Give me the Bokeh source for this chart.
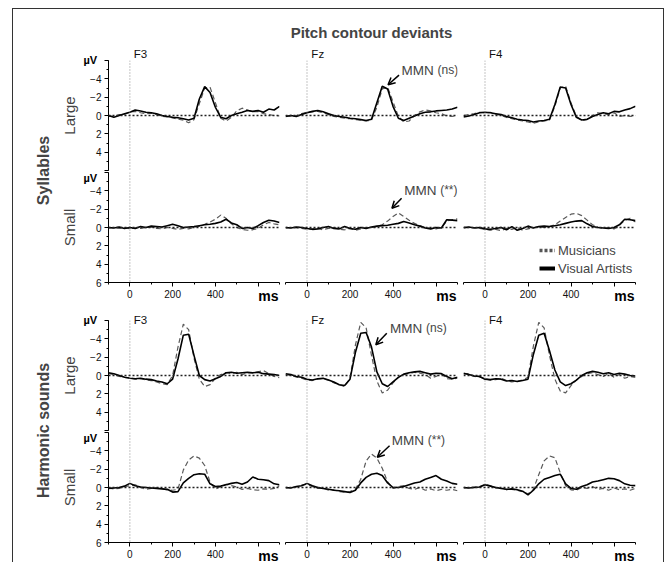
import math
from bokeh.plotting import figure
from bokeh.models import (Range1d, LinearAxis, SingleIntervalTicker, FixedTicker, Label, Arrow,
                          OpenHead, Span, Legend, LegendItem, Spacer, Title)
from bokeh.layouts import row, column
from bokeh.embed import file_html
from bokeh.resources import INLINE

FONT = "Liberation Sans"

# ---------------- data (µV, negative plotted upwards) ----------------
time_ms = [-100, -75, -50, -25, 0, 25, 50, 75, 100, 125, 150, 175, 200, 225, 250, 275,
           300, 325, 350, 375, 400, 425, 450, 475, 500, 525, 550, 575, 600, 625, 650, 675, 700]

electrodes = ["F3", "Fz", "F4"]
row_sizes = ["Large", "Small", "Large", "Small"]
stim_types = ["Syllables", "Harmonic sounds"]
groups = ["Musicians", "Visual Artists"]
chart_title = "Pitch contour deviants"
x_unit = "ms"
y_unit = "µV"

# Syllables - Large deviants
syl_large_f3_mus = [0.1, 0.1, -0.1, -0.1, -0.4, -0.45, -0.3, -0.2, -0.25, -0.1, 0.1, 0.15, 0.25, 0.4, 0.5, 0.8, 0.45,
                    -1.3, -3.0, -3.1, -1.4, 0.3, 0.6, 0.2, -0.5, -0.8, -0.6, -0.4, -0.45, -0.2, -0.1, 0.0, 0.05]
syl_large_f3_va = [0.0, 0.2, 0.0, -0.2, -0.35, -0.6, -0.5, -0.35, -0.3, -0.2, 0.0, 0.1, 0.2, 0.25, 0.35, 0.5, 0.3,
                   -1.8, -3.15, -2.5, -0.9, 0.2, 0.35, 0.0, -0.2, -0.35, -0.55, -0.45, -0.55, -0.35, -0.7, -0.6, -1.0]
syl_large_fz_mus = [0.0, 0.1, 0.0, -0.2, -0.35, -0.4, -0.45, -0.3, -0.1, 0.1, 0.2, 0.3, 0.35, 0.45, 0.5, 0.6, 0.5,
                    -0.9, -2.9, -3.1, -1.5, 0.1, 0.7, 0.6, 0.0, -0.4, -0.6, -0.5, -0.3, -0.2, 0.05, 0.1, 0.0]
syl_large_fz_va = [0.1, 0.0, 0.1, -0.1, -0.3, -0.45, -0.55, -0.4, -0.2, 0.0, 0.1, 0.2, 0.3, 0.35, 0.45, 0.55, 0.4,
                   -1.4, -3.2, -2.9, -1.0, 0.3, 0.55, 0.3, 0.05, -0.2, -0.35, -0.4, -0.5, -0.55, -0.6, -0.7, -0.9]
syl_large_f4_mus = [0.0, -0.1, -0.2, -0.35, -0.3, -0.35, -0.15, 0.0, 0.2, 0.35, 0.5, 0.6, 0.7, 0.85, 0.7, 0.6, 0.5,
                    -1.0, -3.0, -3.2, -1.4, 0.1, 0.55, 0.45, 0.0, -0.3, -0.2, -0.1, -0.3, 0.1, 0.0, 0.1, 0.0]
syl_large_f4_va = [0.15, 0.05, -0.1, -0.3, -0.35, -0.3, -0.2, -0.1, 0.1, 0.25, 0.4, 0.5, 0.55, 0.7, 0.6, 0.55, 0.4,
                   -1.2, -3.1, -3.0, -1.2, 0.2, 0.5, 0.4, 0.1, -0.1, -0.3, -0.2, -0.45, -0.4, -0.6, -0.75, -1.0]

# Syllables - Small deviants
syl_small_f3_mus = [0.05, 0.0, 0.1, 0.0, 0.15, 0.05, 0.1, 0.0, -0.05, 0.1, 0.15, 0.0, 0.1, 0.2, 0.1, 0.15, 0.0,
                    -0.15, -0.35, -0.6, -0.9, -1.35, -1.0, -0.4, 0.0, 0.2, 0.3, 0.25, 0.1, -0.3, -0.55, -0.4, -0.3]
syl_small_f3_va = [0.0, 0.05, -0.05, 0.1, 0.0, 0.1, -0.1, 0.0, -0.15, -0.1, -0.05, -0.2, -0.35, -0.2, 0.0, -0.05, -0.1,
                   -0.2, -0.3, -0.35, -0.45, -0.6, -0.9, -0.5, -0.3, 0.1, 0.0, 0.1, -0.2, -0.55, -0.8, -0.7, -0.55]
syl_small_fz_mus = [0.05, 0.0, 0.05, 0.1, 0.2, 0.15, 0.1, 0.25, 0.1, 0.0, 0.2, 0.25, 0.1, 0.3, 0.15, 0.0, 0.0,
                    -0.1, -0.3, -0.7, -1.2, -1.6, -1.2, -0.8, -0.45, -0.2, 0.0, 0.1, 0.15, 0.0, -0.7, -0.85, -0.95]
syl_small_fz_va = [0.0, 0.05, -0.05, 0.0, 0.1, 0.2, 0.15, 0.0, -0.1, 0.1, 0.15, -0.1, 0.1, 0.2, 0.0, 0.1, -0.05,
                   -0.15, -0.2, -0.25, -0.35, -0.45, -0.65, -0.5, -0.3, -0.15, 0.05, 0.15, 0.0, 0.05, -0.85, -0.8, -0.75]
syl_small_f4_mus = [0.05, 0.0, 0.0, 0.1, 0.2, 0.3, 0.2, 0.35, 0.1, 0.2, 0.0, 0.3, 0.15, 0.0, -0.05, 0.0, -0.1,
                    -0.3, -0.7, -1.1, -1.45, -1.55, -1.3, -0.8, -0.3, -0.05, 0.1, 0.05, 0.15, -0.2, -0.8, -1.0, -0.6]
syl_small_f4_va = [0.0, -0.05, 0.05, 0.0, 0.15, 0.2, 0.1, 0.0, 0.25, -0.1, 0.3, 0.1, -0.15, 0.05, -0.1, -0.15, -0.1,
                   -0.2, -0.3, -0.45, -0.6, -0.7, -0.75, -0.4, -0.1, 0.0, 0.05, 0.1, 0.0, -0.3, -0.9, -0.85, -0.75]

# Harmonic sounds - Large deviants
harm_large_f3_mus = [-0.2, -0.1, 0.1, 0.2, 0.25, 0.4, 0.35, 0.5, 0.55, 0.7, 0.9, 1.0, 0.0, -3.1, -5.6, -5.0, -1.9,
                     0.4, 1.2, 1.0, 0.3, -0.1, -0.3, -0.2, -0.35, -0.1, -0.3, -0.25, -0.4, -0.55, -0.2, 0.1, 0.25]
harm_large_f3_va = [-0.3, -0.2, 0.0, 0.2, 0.3, 0.35, 0.3, 0.4, 0.45, 0.6, 0.7, 0.9, 0.4, -1.8, -4.4, -4.5, -2.2,
                    0.0, 0.45, 0.6, 0.35, 0.1, -0.3, -0.35, -0.25, -0.3, -0.35, -0.3, -0.35, -0.2, -0.15, -0.1, 0.0]
harm_large_fz_mus = [-0.1, 0.0, 0.15, 0.3, 0.5, 0.55, 0.4, 0.35, 0.5, 0.8, 1.0, 1.2, 0.3, -3.3, -5.8, -5.2, -2.2,
                     0.6, 1.9, 1.6, 0.8, 0.2, -0.1, -0.2, -0.35, -0.25, -0.1, 0.3, 0.1, -0.2, 0.35, 0.4, 0.3]
harm_large_fz_va = [-0.2, -0.1, 0.1, 0.2, 0.4, 0.5, 0.35, 0.3, 0.5, 0.7, 1.0, 1.1, 0.4, -2.5, -4.6, -4.7, -3.1,
                    -0.4, 0.9, 1.2, 0.7, 0.2, -0.15, -0.3, -0.4, -0.45, -0.3, -0.15, -0.25, -0.2, 0.1, 0.35, 0.2]
harm_large_f4_mus = [-0.15, -0.2, 0.1, 0.15, 0.35, 0.5, 0.45, 0.3, 0.55, 0.7, 0.6, 0.5, 0.2, -3.2, -5.8, -5.2, -2.2,
                     0.4, 1.7, 1.9, 1.1, 0.5, 0.1, -0.2, -0.3, -0.1, 0.1, -0.2, 0.2, -0.1, 0.3, 0.1, 0.2]
harm_large_f4_va = [-0.25, -0.1, 0.05, 0.1, 0.4, 0.45, 0.35, 0.4, 0.6, 0.55, 0.65, 0.55, 0.4, -2.3, -4.4, -4.6, -2.7,
                    -0.6, 0.7, 1.1, 0.9, 0.5, 0.0, -0.3, -0.45, -0.35, -0.2, -0.3, -0.1, -0.25, -0.15, 0.0, 0.05]

# Harmonic sounds - Small deviants
harm_small_f3_mus = [0.05, 0.15, 0.1, -0.1, -0.2, -0.3, 0.0, 0.2, 0.1, 0.05, 0.15, 0.25, 0.3, 0.2, -1.9, -3.0, -3.45,
                     -3.2, -2.4, -0.6, 0.2, -0.1, -0.35, -0.2, -0.05, 0.2, 0.1, 0.25, 0.3, 0.15, 0.2, 0.1, -0.2]
harm_small_f3_va = [0.1, 0.05, 0.0, -0.15, -0.45, -0.2, -0.05, 0.0, 0.05, 0.1, 0.15, 0.2, 0.5, 0.45, -0.5, -1.0, -1.4,
                    -1.5, -1.45, -0.4, -0.1, -0.15, -0.3, -0.45, -0.55, -0.35, -0.6, -1.15, -0.9, -0.85, -0.75, -0.4, -0.3]
harm_small_fz_mus = [0.05, 0.0, -0.05, -0.25, -0.35, -0.1, 0.1, 0.05, 0.3, 0.25, 0.45, 0.5, 0.45, 0.2, -0.9, -2.9, -3.65,
                     -3.2, -2.1, -0.6, 0.1, -0.1, -0.2, 0.1, 0.2, 0.0, 0.3, 0.15, 0.35, 0.2, 0.3, 0.2, 0.35]
harm_small_fz_va = [0.0, 0.05, -0.1, -0.2, -0.45, -0.2, 0.0, 0.1, 0.2, 0.3, 0.35, 0.45, 0.55, 0.3, -0.5, -1.1, -1.45,
                    -1.55, -1.3, -0.5, 0.0, 0.0, -0.1, -0.3, -0.5, -0.6, -0.9, -1.1, -1.3, -0.9, -0.7, -0.45, -0.35]
harm_small_f4_mus = [0.05, 0.0, -0.05, -0.1, -0.35, -0.2, 0.05, 0.0, 0.25, 0.2, 0.3, 0.45, 0.7, 0.2, -1.4, -2.9, -3.45,
                     -3.25, -1.6, -0.2, 0.25, 0.3, 0.0, 0.1, -0.1, 0.2, 0.1, 0.3, 0.05, 0.25, 0.15, 0.3, 0.1]
harm_small_f4_va = [0.0, 0.05, 0.0, -0.05, -0.3, -0.15, 0.0, 0.1, 0.2, 0.15, 0.25, 0.4, 0.8, 0.3, -0.4, -0.9, -1.1,
                    -1.3, -1.45, -0.4, 0.1, 0.2, -0.1, -0.3, -0.6, -0.7, -0.85, -1.0, -0.95, -0.75, -0.4, -0.25, -0.2]

panel_data = [
    [(syl_large_f3_mus, syl_large_f3_va), (syl_large_fz_mus, syl_large_fz_va), (syl_large_f4_mus, syl_large_f4_va)],
    [(syl_small_f3_mus, syl_small_f3_va), (syl_small_fz_mus, syl_small_fz_va), (syl_small_f4_mus, syl_small_f4_va)],
    [(harm_large_f3_mus, harm_large_f3_va), (harm_large_fz_mus, harm_large_fz_va), (harm_large_f4_mus, harm_large_f4_va)],
    [(harm_small_f3_mus, harm_small_f3_va), (harm_small_fz_mus, harm_small_fz_va), (harm_small_f4_mus, harm_small_f4_va)],
]

# MMN annotations on the Fz panels: text anchor (ms, µV), significance, arrow tail -> head (ms, µV)
mmn_sig = ["(ns)", "(**)", "(ns)", "(**)"]
mmn_text_pos = [(440, -4.9), (452, -4.0), (386, -5.1), (394, -5.1)]
mmn_arrows = [((428, -4.4), (377, -3.35)), ((440, -3.2), (395, -2.1)),
              ((371, -4.6), (320, -3.35)), ((384, -4.55), (327, -3.3))]

# ---------------- layout geometry (pixels) ----------------
FRAME_W, FRAME_H = 172, 110
ROW_BORDERS = [(51, 1), (1, 22), (16, 1), (1, 20)]   # (top, bottom)
COL_BORDERS = [(49, 3), (3, 3), (3, 28)]             # (left, right)
F_LABEL_STANDOFF = [1, None, -5, None]
UV_TITLE_STANDOFF = [-43, -23, -31, -23]
F_LABEL_MS = 50


def style_ticks(ax, size="10px"):
    ax.major_label_text_font = FONT
    ax.major_label_text_font_size = size
    ax.major_label_text_color = "#111111"
    ax.major_tick_out = 4
    ax.major_tick_in = 0
    ax.minor_tick_out = 2
    ax.minor_tick_in = 0
    ax.axis_line_color = "black"


def make_panel(r, c):
    top, bottom = ROW_BORDERS[r]
    left, right = COL_BORDERS[c]
    p = figure(width=FRAME_W + left + right, height=FRAME_H + top + bottom,
               x_range=Range1d(-100, 700), y_range=Range1d(6, -6),
               x_axis_location=None, y_axis_location=None,
               toolbar_location=None, output_backend="svg",
               min_border_left=left, min_border_right=right,
               min_border_top=top, min_border_bottom=bottom)
    p.outline_line_color = None
    p.grid.visible = False
    p.background_fill_color = "white"
    p.border_fill_color = "white"

    p.add_layout(Span(location=0, dimension="height", line_color="#8a8a8a",
                      line_dash="1 2", line_width=1))
    p.add_layout(Span(location=0, dimension="width", line_color="#222222",
                      line_dash="2 2", line_width=1.3))

    mus, va = panel_data[r][c]
    p.line(time_ms, mus, line_color="#5a5a5a", line_width=1.2, line_dash="5 3")
    p.line(time_ms, va, line_color="black", line_width=1.6)

    if c == 0:
        yax = LinearAxis(ticker=SingleIntervalTicker(interval=2, num_minor_ticks=2))
        style_ticks(yax)
        yax.major_label_overrides = {-6: "", 6: ""} if r in (0, 2) else {-6: ""}
        yax.major_label_standoff = 3
        yax.axis_label = row_sizes[r]
        yax.axis_label_text_font = FONT
        yax.axis_label_text_font_style = "normal"
        yax.axis_label_text_font_size = "15px"
        yax.axis_label_standoff = 9
        p.add_layout(yax, "left")

    if r in (1, 3):
        xax = LinearAxis(ticker=SingleIntervalTicker(interval=200, num_minor_ticks=2))
        style_ticks(xax)
        xax.major_label_standoff = 3
        xax.major_label_overrides = {600: ""}
        p.add_layout(xax, "below")
        p.add_layout(Title(text=x_unit, align="right", offset=1, vertical_align="top",
                           standoff=-26, text_font=FONT, text_font_size="14px",
                           text_font_style="bold", text_color="black"), "below")

    if F_LABEL_STANDOFF[r] is not None:
        tax = LinearAxis(ticker=FixedTicker(ticks=[F_LABEL_MS]),
                         major_label_overrides={F_LABEL_MS: electrodes[c]})
        tax.axis_line_color = None
        tax.major_tick_line_color = None
        tax.minor_tick_line_color = None
        tax.major_tick_out = 0
        tax.major_tick_in = 0
        tax.major_label_standoff = F_LABEL_STANDOFF[r]
        tax.major_label_text_font = FONT
        tax.major_label_text_font_size = "11.5px"
        tax.major_label_text_color = "#111111"
        if r == 0 and c == 1:
            tax.axis_label = chart_title
            tax.axis_label_text_font = FONT
            tax.axis_label_text_font_style = "bold"
            tax.axis_label_text_font_size = "15px"
            tax.axis_label_standoff = 4
        p.add_layout(tax, "above")

    if c == 0:
        p.add_layout(Title(text=y_unit, align="left", offset=-25, vertical_align="bottom",
                           standoff=UV_TITLE_STANDOFF[r], text_font=FONT, text_font_size="11px",
                           text_font_style="bold", text_color="black"), "above")

    if c == 1:
        (tx, ty) = mmn_text_pos[r]
        p.add_layout(Label(x=tx, y=ty, text="MMN", text_align="left", text_baseline="middle",
                           text_font=FONT, text_font_size="13.5px"))
        p.add_layout(Label(x=tx, y=ty, x_offset=36, y_offset=1, text=mmn_sig[r], text_align="left",
                           text_baseline="middle", text_font=FONT, text_font_size="12px"))
        (x0, y0), (x1, y1) = mmn_arrows[r]
        p.add_layout(Arrow(x_start=x0, y_start=y0, x_end=x1, y_end=y1, line_width=1.5,
                           line_color="black",
                           end=OpenHead(size=7, line_width=1.5, line_color="black")))

    if r == 1 and c == 2:
        nan = float("nan")
        leg_mus = p.line([nan], [nan], line_color="#555555", line_width=3.5, line_dash="3 2")
        leg_va = p.line([nan], [nan], line_color="black", line_width=4)
        legend = Legend(items=[LegendItem(label=groups[0], renderers=[leg_mus]),
                               LegendItem(label=groups[1], renderers=[leg_va])],
                        location=(76, 6), border_line_color=None, background_fill_alpha=0,
                        label_text_font=FONT, label_text_font_size="13px",
                        glyph_width=16, glyph_height=12, label_standoff=3,
                        label_height=16, spacing=2, padding=0, margin=0)
        p.add_layout(legend)
    return p


panels = [[make_panel(r, c) for c in range(3)] for r in range(4)]


def make_group_label(text, height, center_from_top):
    g = figure(width=45, height=height, x_range=Range1d(0, 45), y_range=Range1d(0, height),
               x_axis_location=None, y_axis_location=None, toolbar_location=None,
               output_backend="svg", min_border=0)
    g.outline_line_color = None
    g.grid.visible = False
    g.add_layout(Label(x=30, y=height - center_from_top, text=text, angle=math.pi / 2,
                       text_align="center", text_baseline="middle", text_font=FONT,
                       text_font_size="16px", text_font_style="bold"))
    return g


h_r = [FRAME_H + t + b for (t, b) in ROW_BORDERS]
syl_label = make_group_label(stim_types[0], h_r[0] + h_r[1], ROW_BORDERS[0][0] + 110)
harm_label = make_group_label(stim_types[1], h_r[2] + h_r[3], ROW_BORDERS[2][0] + 110)

labels_col = column(syl_label, harm_label)
cols = [column(*[panels[r][c] for r in range(4)]) for c in range(3)]
main = row(labels_col, *cols,
           styles={"border-top": "1px solid #333", "border-left": "1px solid #333",
                   "border-right": "1px solid #333"})
layout = column(Spacer(width=10, height=8), row(Spacer(width=12, height=10), main))

open("out.html", "w").write(file_html(layout, INLINE))
